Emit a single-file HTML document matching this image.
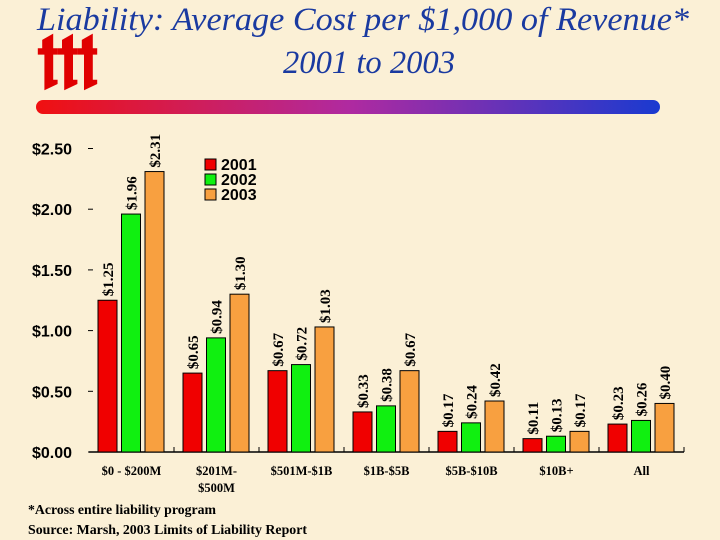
<!DOCTYPE html>
<html><head><meta charset="utf-8"><style>
html,body{margin:0;padding:0;}
body{width:720px;height:540px;background:#fbf0d6;overflow:hidden;position:relative;}
svg{position:absolute;left:0;top:0;}
</style></head><body>
<svg width="720" height="540">
<defs><linearGradient id="bar" x1="0" x2="1"><stop offset="0" stop-color="#f01010"/><stop offset="0.5" stop-color="#b02aa0"/><stop offset="1" stop-color="#1a3ad0"/></linearGradient></defs>
<g fill="#e00000" transform="translate(-4,0) scale(1.1,1.05)">
<path d="M42 38 L52 32 L52 46 L56 46 L56 52 L52 52 L52 76 L56 76 L56 80 L44 86 L44 52 L38 52 L38 46 L42 46Z"/>
<path d="M60 38 L70 32 L70 46 L74 46 L74 52 L70 52 L70 76 L74 76 L74 80 L62 86 L62 52 L56 52 L56 46 L60 46Z"/>
<path d="M78 38 L88 32 L88 46 L92 46 L92 52 L88 52 L88 76 L92 76 L92 80 L80 86 L80 52 L74 52 L74 46 L78 46Z"/>
</g>
<text x="363" y="30" text-anchor="middle" textLength="652" lengthAdjust="spacingAndGlyphs" font-family="Liberation Serif" font-style="italic" font-size="33" fill="#1a3aa0">Liability: Average Cost per $1,000 of Revenue*</text>
<text x="369" y="73" text-anchor="middle" textLength="172" lengthAdjust="spacingAndGlyphs" font-family="Liberation Serif" font-style="italic" font-size="33" fill="#1a3aa0">2001 to 2003</text>
<rect x="36" y="100" width="624" height="14" rx="7" fill="url(#bar)"/>
<g id="plot"></g>
<text x="28" y="514" textLength="188" lengthAdjust="spacingAndGlyphs" font-family="Liberation Serif" font-weight="bold" font-size="14">*Across entire liability program</text>
<text x="28" y="534" textLength="279" lengthAdjust="spacingAndGlyphs" font-family="Liberation Serif" font-weight="bold" font-size="14">Source: Marsh, 2003 Limits of Liability Report</text>
</svg>
<script>
const categories=[["$0 - $200M"],["$201M-","$500M"],["$501M-$1B"],["$1B-$5B"],["$5B-$10B"],["$10B+"],["All"]];
const s2001=[1.25,0.65,0.67,0.33,0.17,0.11,0.23];
const s2002=[1.96,0.94,0.72,0.38,0.24,0.13,0.26];
const s2003=[2.31,1.30,1.03,0.67,0.42,0.17,0.40];
const yTicks=[0,0.5,1,1.5,2,2.5];
const yTickLabels=["$0.00","$0.50","$1.00","$1.50","$2.00","$2.50"];
const seriesNames=["2001","2002","2003"];
const colors=["#f00000","#10f010","#f8a040"];
const NS="http://www.w3.org/2000/svg";
const g=document.getElementById('plot');
const x0=89,x1=684,gw=(x1-x0)/categories.length;
const y=v=>452-v*121.4;
function mk(t,a,txt){const e=document.createElementNS(NS,t);for(const k in a)e.setAttribute(k,a[k]);if(txt!=null)e.textContent=txt;g.appendChild(e);return e;}
yTicks.forEach((v,i)=>{
 const t=mk('line',{x1:88,x2:93,y1:y(v),y2:y(v),stroke:'#000'});
 
 
 const l=mk('text',{x:72,y:y(v)+6,'text-anchor':'end','font-family':'Liberation Sans','font-weight':'bold','font-size':'16'},yTickLabels[i]);
 
 
});
const ax=mk('line',{x1:x0,x2:x1,y1:452,y2:452,stroke:'#000','stroke-width':1.5});


const series=[s2001,s2002,s2003];
categories.forEach((c,i)=>{
 const gx=x0+i*gw;
 const tk=mk('line',{x1:gx+gw,x2:gx+gw,y1:447,y2:452,stroke:'#000'});
 
 
 series.forEach((s,j)=>{
  const bx=gx+9+j*23.5,v=s[i];
  const r=mk('rect',{x:bx,y:y(v),width:19,height:452-y(v),fill:colors[j],stroke:'#000','stroke-width':1});
  
  
  const tx=bx+15,ty=y(v)-4;
  const t=mk('text',{x:tx,y:ty,transform:`rotate(-90 ${tx} ${ty})`,'font-family':'Liberation Serif','font-weight':'bold','font-size':'15'},'$'+v.toFixed(2));
  
  
 });
 c.forEach((line,k)=>{
  const t=mk('text',{x:gx+gw/2,y:475+k*17,'text-anchor':'middle','font-family':'Liberation Serif','font-weight':'bold','font-size':'12.5'},line);
  
  
 });
});
seriesNames.forEach((n,j)=>{
 const r=mk('rect',{x:205,y:159+j*15,width:11,height:11,fill:colors[j],stroke:'#000'});
 
 
 const t=mk('text',{x:221,y:170+j*15,'font-family':'Liberation Sans','font-weight':'bold','font-size':'16'},n);
 
 
});
</script>
</body></html>
